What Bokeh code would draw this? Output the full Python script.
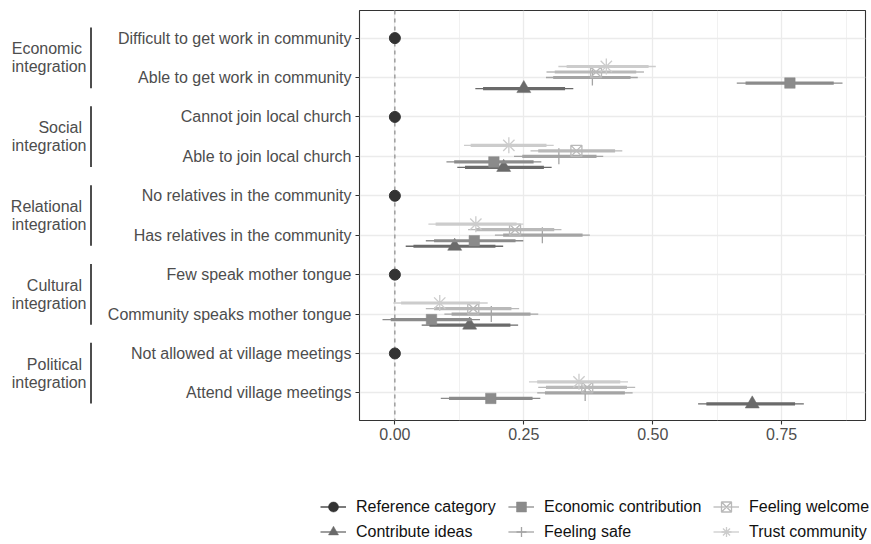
from bokeh.plotting import figure
from bokeh.layouts import row, column
from bokeh.models import (ColumnDataSource, FactorRange, FixedTicker, NumeralTickFormatter,
                          Span, Legend, LegendItem, Range1d)
from bokeh.core.properties import value
from bokeh.transform import dodge
from bokeh.embed import file_html
from bokeh.resources import INLINE

# Rows of the y axis, listed top to bottom
rows = [
    "Difficult to get work in community",
    "Able to get work in community",
    "Cannot join local church",
    "Able to join local church",
    "No relatives in the community",
    "Has relatives in the community",
    "Few speak mother tongue",
    "Community speaks mother tongue",
    "Not allowed at village meetings",
    "Attend village meetings",
]
ref_rows = rows[0::2]
cmp_rows = rows[1::2]

group_first = ["Economic", "Social", "Relational", "Cultural", "Political"]
group_second = ["integration"] * 5

# Reference categories (estimate fixed at zero)
ref_est = [0.0, 0.0, 0.0, 0.0, 0.0]

# Estimates with 90% (thick) and 95% (thin) intervals, in the order of cmp_rows
ideas_est = [0.250, 0.211, 0.116, 0.145, 0.693]
ideas_lo90 = [0.171, 0.136, 0.036, 0.067, 0.604]
ideas_hi90 = [0.330, 0.289, 0.195, 0.224, 0.776]
ideas_lo95 = [0.156, 0.121, 0.021, 0.052, 0.588]
ideas_hi95 = [0.346, 0.304, 0.210, 0.239, 0.793]

econ_est = [0.766, 0.192, 0.154, 0.071, 0.186]
econ_lo90 = [0.680, 0.115, 0.076, -0.008, 0.105]
econ_hi90 = [0.851, 0.269, 0.234, 0.149, 0.267]
econ_lo95 = [0.663, 0.100, 0.060, -0.024, 0.089]
econ_hi95 = [0.868, 0.284, 0.249, 0.165, 0.282]

safe_est = [0.383, 0.318, 0.286, 0.187, 0.369]
safe_lo90 = [0.307, 0.247, 0.210, 0.110, 0.291]
safe_hi90 = [0.457, 0.391, 0.364, 0.263, 0.446]
safe_lo95 = [0.293, 0.231, 0.194, 0.096, 0.276]
safe_hi95 = [0.471, 0.404, 0.378, 0.278, 0.461]

welcome_est = [0.390, 0.352, 0.233, 0.152, 0.373]
welcome_lo90 = [0.310, 0.278, 0.157, 0.076, 0.293]
welcome_hi90 = [0.468, 0.427, 0.309, 0.226, 0.450]
welcome_lo95 = [0.294, 0.263, 0.142, 0.060, 0.278]
welcome_hi95 = [0.483, 0.441, 0.323, 0.241, 0.466]

trust_est = [0.410, 0.221, 0.157, 0.087, 0.357]
trust_lo90 = [0.333, 0.147, 0.079, 0.012, 0.276]
trust_hi90 = [0.492, 0.294, 0.236, 0.165, 0.437]
trust_lo95 = [0.317, 0.134, 0.065, -0.003, 0.260]
trust_hi95 = [0.506, 0.308, 0.249, 0.180, 0.452]

x_ticks = [0.0, 0.25, 0.5, 0.75]

# legend columns (filled top to bottom)
legend_columns = [
    ["Reference category", "Contribute ideas"],
    ["Economic contribution", "Feeling safe"],
    ["Feeling welcome", "Trust community"],
]

FONT = "Liberation Sans"
AXIS_TEXT = "#4D4D4D"

# name, estimates, intervals, colour, marker, size, filled, dodge slot (0 = top)
series = [
    ("Contribute ideas", ideas_est, ideas_lo90, ideas_hi90, ideas_lo95, ideas_hi95,
     "#6A6A6A", "triangle", 14, True, 4),
    ("Economic contribution", econ_est, econ_lo90, econ_hi90, econ_lo95, econ_hi95,
     "#8B8B8B", "square", 10.5, True, 3),
    ("Feeling safe", safe_est, safe_lo90, safe_hi90, safe_lo95, safe_hi95,
     "#A4A4A4", "cross", 16, False, 2),
    ("Feeling welcome", welcome_est, welcome_lo90, welcome_hi90, welcome_lo95, welcome_hi95,
     "#B9B9B9", "square_x", 11, False, 1),
    ("Trust community", trust_est, trust_lo90, trust_hi90, trust_lo95, trust_hi95,
     "#CCCCCC", "asterisk", 16, False, 0),
]
ref_style = ("Reference category", "#333333", "circle", 11, True)

all_lo = ref_est + [v for s in series for v in s[4]]
all_hi = ref_est + [v for s in series for v in s[5]]
span_ = max(all_hi) - min(all_lo)
x_start = min(all_lo) - 0.05 * span_
x_end = max(all_hi) + 0.05 * span_

y_range = FactorRange(factors=rows[::-1], range_padding=0.2, range_padding_units="absolute")

FRAME_H = 410
TOP = 10
BOTTOM = 44

# ---- main panel -------------------------------------------------------------
p = figure(frame_width=506, frame_height=FRAME_H, x_range=(x_start, x_end), y_range=y_range,
           output_backend="svg", toolbar_location=None,
           min_border_left=263, min_border_right=6, min_border_top=TOP, min_border_bottom=BOTTOM)

p.background_fill_color = "white"
p.border_fill_color = "white"
p.outline_line_color = "#333333"
p.outline_line_width = 1.1

p.grid.grid_line_color = "#EBEBEB"
p.grid.grid_line_width = 1.3
p.xgrid.minor_grid_line_color = "#EBEBEB"
p.xgrid.minor_grid_line_width = 0.7

p.xaxis.ticker = FixedTicker(ticks=x_ticks,
                             minor_ticks=[(a + b) / 2 for a, b in zip(x_ticks, x_ticks[1:] + [1.0])])
p.xaxis.formatter = NumeralTickFormatter(format="0.00")
p.axis.axis_line_color = None
p.axis.minor_tick_line_color = None
p.axis.major_tick_line_color = "#333333"
p.axis.major_tick_line_width = 1.1
p.axis.major_tick_out = 4
p.axis.major_tick_in = 0
p.axis.major_label_text_font = FONT
p.axis.major_label_text_font_size = "16px"
p.axis.major_label_text_color = AXIS_TEXT
p.yaxis.major_label_standoff = 4
p.xaxis.major_label_standoff = 3

# dashed reference line at zero
p.add_layout(Span(location=0, dimension="height", line_color="#808080", line_width=1.1,
                  line_dash="4 4", level="underlay"))

# reference points
ref_src = ColumnDataSource(dict(row=ref_rows, est=ref_est))
p.scatter(x="est", y="row", source=ref_src, marker=ref_style[2], size=ref_style[3],
          fill_color=ref_style[1], line_color=ref_style[1])

slot_step = 0.14
for name, est, lo90, hi90, lo95, hi95, col, marker, size, filled, slot in series:
    src = ColumnDataSource(dict(row=cmp_rows, est=est, lo90=lo90, hi90=hi90, lo95=lo95, hi95=hi95))
    yy = dodge("row", (2 - slot) * slot_step, range=p.y_range)
    p.segment(x0="lo95", y0=yy, x1="hi95", y1=yy, source=src, line_color=col, line_width=1.3)
    p.segment(x0="lo90", y0=yy, x1="hi90", y1=yy, source=src, line_color=col, line_width=3.2)
    if filled:
        p.scatter(x="est", y=yy, source=src, marker=marker, size=size,
                  fill_color=col, line_color=col, line_width=0.5)
    else:
        p.scatter(x="est", y=yy, source=src, marker=marker, size=size,
                  fill_color=None, line_color=col, line_width=1.3)

# ---- group labels and brackets ------------------------------------------------
LEFT_W = 96
g = figure(frame_width=LEFT_W, frame_height=FRAME_H, x_range=Range1d(0, LEFT_W), y_range=y_range,
           output_backend="svg", toolbar_location=None,
           min_border_left=0, min_border_right=0, min_border_top=TOP, min_border_bottom=BOTTOM)
g.axis.visible = False
g.grid.visible = False
g.outline_line_color = None

n = len(rows)
def ypos(r):
    return (n - 1 - rows.index(r)) + 0.5

g_top, g_bot, g_mid = [], [], []
for k in range(len(group_first)):
    a, b = rows[2 * k], rows[2 * k + 1]
    g_top.append(ypos(a) + 0.27)
    g_bot.append(ypos(b) - 0.27)
    g_mid.append((ypos(a) + ypos(b)) / 2)

g.segment(x0=90.5, y0=g_top, x1=90.5, y1=g_bot, line_color="#4D4D4D", line_width=2)
g.text(x=81.5, y=g_mid, text=group_first, y_offset=-9, text_align="right",
       text_baseline="middle", text_font=value(FONT), text_font_size="16px", text_color=AXIS_TEXT)
g.text(x=86, y=g_mid, text=group_second, y_offset=9, text_align="right",
       text_baseline="middle", text_font=value(FONT), text_font_size="16px", text_color=AXIS_TEXT)

# ---- legend strip -------------------------------------------------------------
LEG_H = 80
lg = figure(frame_width=871, frame_height=LEG_H, x_range=(0, 1), y_range=(0, 1),
            output_backend="svg", toolbar_location=None,
            min_border_left=0, min_border_right=0, min_border_top=0, min_border_bottom=0)
lg.axis.visible = False
lg.grid.visible = False
lg.outline_line_color = None

# key renderers sit outside the visible range; only their legend swatches show
keys = {}
styles = [(ref_style[0], ref_style[1], ref_style[2], ref_style[4])] + \
         [(s[0], s[6], s[7], s[9]) for s in series]
for name, col, marker, filled in styles:
    seg = lg.segment(x0=[-3], y0=[-3], x1=[-2], y1=[-3], line_color=col, line_width=1.3)
    if filled:
        pt = lg.scatter(x=[-3], y=[-3], marker=marker, fill_color=col, line_color=col, line_width=0.5)
    else:
        pt = lg.scatter(x=[-3], y=[-3], marker=marker, fill_color=None, line_color=col,
                        line_width=1.3)
    keys[name] = [seg, pt]

for col_names, x_left in zip(legend_columns, [320, 508, 713]):
    lg.add_layout(Legend(items=[LegendItem(label=nm, renderers=keys[nm]) for nm in col_names],
                         orientation="vertical", location=(x_left, 0),
                         glyph_width=26, glyph_height=25, label_height=25, label_standoff=10,
                         spacing=0, padding=0, margin=0, border_line_color=None,
                         background_fill_alpha=0, label_text_font=FONT,
                         label_text_font_size="16px", label_text_color="#111111"))

layout = column(row(g, p, spacing=0), lg, spacing=0)

open("out.html", "w").write(file_html(layout, INLINE))
